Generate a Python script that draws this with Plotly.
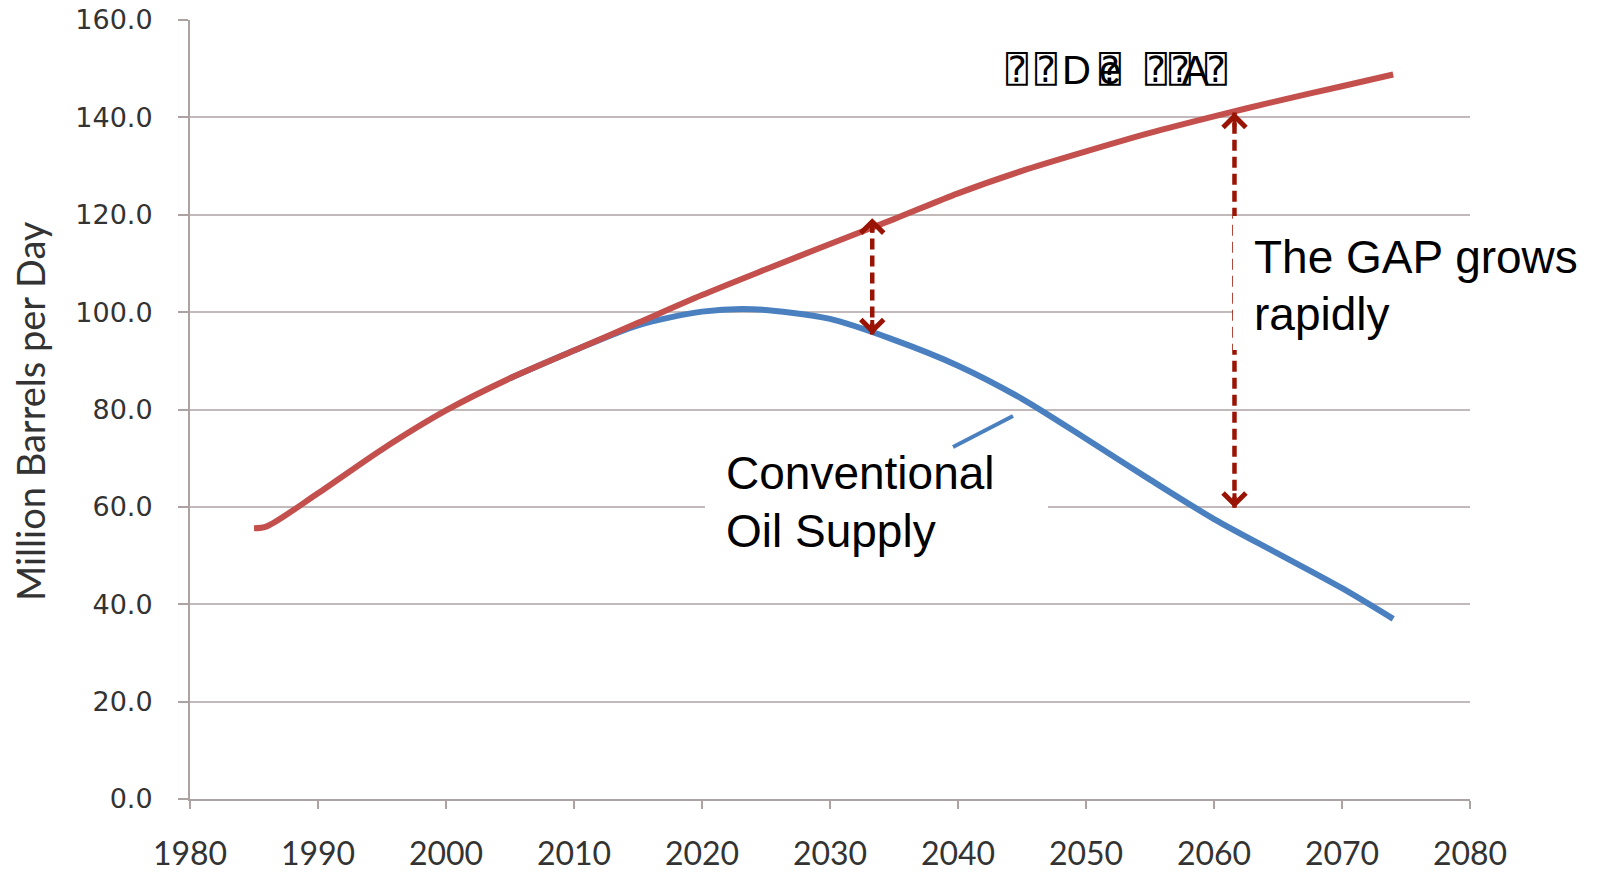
import plotly.graph_objects as go

# Oil demand vs conventional supply, million barrels per day
demand_years = [1985, 1986, 1990, 1995, 2000, 2005, 2010, 2015, 2020, 2025,
                2030, 2035, 2040, 2045, 2050, 2055, 2060, 2065, 2070, 2074]
demand = [55.6, 56.0, 62.8, 71.8, 79.8, 86.4, 92.1, 97.8, 103.5, 108.8,
          114.0, 119.1, 124.4, 129.0, 133.0, 136.8, 140.2, 143.4, 146.4, 148.8]

supply_years = [2005, 2010, 2015, 2020, 2024, 2030, 2035, 2040, 2045, 2050,
                2055, 2060, 2065, 2070, 2074]
supply = [86.4, 92.1, 97.3, 100.1, 100.6, 98.6, 94.3, 89.0, 82.2, 74.0,
          65.6, 57.5, 50.4, 43.3, 37.0]

# Gap markers: year, upper tip, lower tip
gap_years = [2033.3, 2061.6]
gap_top = [119.3, 141.0]
gap_bottom = [95.4, 59.8]

x_ticks = list(range(1980, 2081, 10))
y_ticks = list(range(0, 161, 20))

RED = "#C4504E"
BLUE = "#4A80C0"
ARROW = "#9A1405"
GRID = "#C2BABA"
AXIS = "#ADA2A2"
TICKFONT = "#333333"

W, H = 1610, 878
L, R, T, B = 190, 140, 20, 79


def px(x):
    return (x - L) / (W - L - R)


def py(y):
    return (H - B - y) / (H - T - B)


fig = go.Figure()

fig.add_trace(go.Scatter(
    x=supply_years, y=supply, mode="lines",
    line=dict(color=BLUE, width=6, shape="spline", smoothing=0.8),
    hoverinfo="skip", showlegend=False))
fig.add_trace(go.Scatter(
    x=demand_years, y=demand, mode="lines",
    line=dict(color=RED, width=6, shape="spline", smoothing=0.8),
    hoverinfo="skip", showlegend=False))

for gx, gt, gb in zip(gap_years, gap_top, gap_bottom):
    fig.add_trace(go.Scatter(
        x=[gx, gx], y=[gb, gt], mode="lines",
        line=dict(color=ARROW, width=4.5, dash="11px,6px"),
        hoverinfo="skip", showlegend=False))

annotations = []
for gx, gt, gb in zip(gap_years, gap_top, gap_bottom):
    for tip, off in ((gt, 16), (gb, -16)):
        annotations.append(dict(
            x=gx, y=tip, xref="x", yref="y", text="", showarrow=True,
            ax=0, ay=off, arrowhead=4, arrowsize=1.1, arrowwidth=4,
            arrowcolor=ARROW))

# Text boxes
shapes = [
    dict(type="rect", xref="paper", yref="paper", layer="above",
         x0=px(1233), x1=px(1640), y0=py(350), y1=py(216),
         fillcolor="white", line=dict(width=0)),
    dict(type="rect", xref="paper", yref="paper", layer="above",
         x0=px(705), x1=px(1048), y0=py(575), y1=py(430),
         fillcolor="white", line=dict(width=0)),
    dict(type="line", xref="paper", yref="paper", layer="above",
         x0=px(953), y0=py(447), x1=px(1013), y1=py(416),
         line=dict(color=BLUE, width=4)),
]

label_font = dict(family="Liberation Sans, Arial", size=46, color="black")
for txt, x, y in (("The GAP grows", 1252, 257), ("rapidly", 1252, 314),
                  ("Conventional", 724, 473), ("Oil Supply", 724, 531)):
    annotations.append(dict(
        x=px(x), y=py(y), xref="paper", yref="paper", text=txt,
        showarrow=False, xanchor="left", yanchor="middle", font=label_font))

# Header glyph run
box_font = dict(family="DejaVu Sans Mono, DejaVu Sans", size=36, color="black")
let_font = dict(family="Liberation Sans, Arial", size=40, color="black")
for g, x, f in (("⍰", 1017, box_font), ("⍰", 1046, box_font),
                ("D", 1076, let_font), ("⍰", 1110, box_font),
                ("e", 1110, let_font), ("⍰", 1156, box_font),
                ("⍰", 1180, box_font), ("A", 1195, let_font),
                ("⍰", 1216, box_font)):
    annotations.append(dict(
        x=px(x), y=py(70), xref="paper", yref="paper", text=g,
        showarrow=False, xanchor="center", yanchor="middle", font=f))

annotations.append(dict(
    x=px(30), y=py(411), xref="paper", yref="paper",
    text="Million Barrels per Day", textangle=-90, showarrow=False,
    xanchor="center", yanchor="middle",
    font=dict(family="Lato", size=38, color="#333333")))

fig.update_layout(
    width=W, height=H,
    margin=dict(l=L, r=R, t=T, b=B, pad=0, autoexpand=False),
    paper_bgcolor="white", plot_bgcolor="white",
    showlegend=False,
    shapes=shapes, annotations=annotations,
    xaxis=dict(
        range=[1980, 2080], tickvals=x_ticks, ticktext=[str(v) for v in x_ticks],
        showgrid=False, zeroline=False, showline=True, linecolor=AXIS,
        linewidth=2, ticks="outside", ticklen=8, tickwidth=2, tickcolor=AXIS,
        ticklabelstandoff=18, automargin=False,
        tickfont=dict(family="Lato", size=32, color=TICKFONT)),
    yaxis=dict(
        range=[0, 160], tickvals=y_ticks, ticktext=[f"{v:.1f}" for v in y_ticks],
        showgrid=True, gridcolor=GRID, gridwidth=2, zeroline=False,
        showline=True, linecolor=AXIS, linewidth=2, ticks="outside",
        ticklen=10, tickwidth=2, tickcolor=AXIS, ticklabelstandoff=20,
        automargin=False,
        tickfont=dict(family="DejaVu Sans", size=27, color=TICKFONT)),
)

fig.write_html("out.html")
